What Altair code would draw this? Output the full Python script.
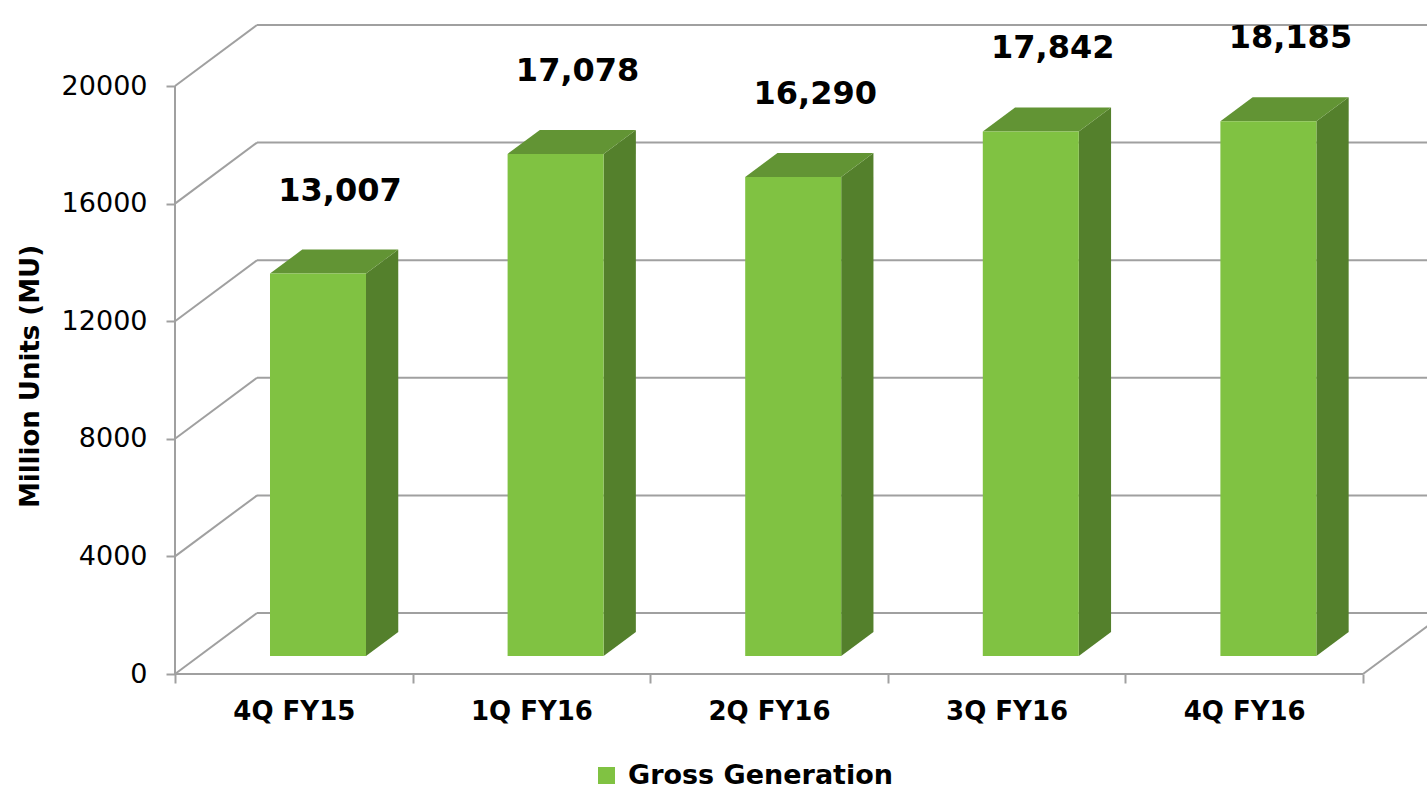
import altair as alt
import pandas as pd

# ---- data ----
categories = ["4Q FY15", "1Q FY16", "2Q FY16", "3Q FY16", "4Q FY16"]
values = [13007, 17078, 16290, 17842, 18185]
y_ticks = [0, 4000, 8000, 12000, 16000, 20000]
series_name = "Gross Generation"

# ---- style / projection constants ----
W, H = 1252, 674              # plot area in pixels
PX_U = 237.6                  # pixels per category band
PX_V = 588 / 20000            # pixels per value unit
DU = 82 / PX_U                # full depth shift, x (band units)
DV = 61 / PX_V                # full depth shift, y (value units)
D0, D1 = 18 / 61, 42 / 61     # bar front / back depth (fraction)
HALF = 48 / PX_U              # half bar width (band units)
FRONT, TOP, SIDE = "#80C242", "#629434", "#54802C"
GRID = "#A0A0A0"
FONT = "DejaVu Sans"

xs = alt.Scale(domain=[0, W / PX_U], nice=False, zero=False)
ys = alt.Scale(domain=[0, H / PX_V], nice=False, zero=False)

# ---- geometry derived from the data ----
bars, side, top = [], [], []
for i, (c, v) in enumerate(zip(categories, values)):
    cen = i + 0.5 + D0 * DU
    xl, xr = cen - HALF, cen + HALF
    sh = (D1 - D0) * DU
    bars.append(dict(cat=c, series=series_name, value=v, cen=cen, xl=xl, xr=xr,
                     y0=D0 * DV, yt=v + D0 * DV))
    side.append(dict(cat=c, x=xr, lo=D0 * DV, hi=v + D0 * DV))
    side.append(dict(cat=c, x=xr + sh, lo=D1 * DV, hi=v + D1 * DV))
    top.append(dict(cat=c, y=v + D0 * DV, lo=xl, hi=xr))
    top.append(dict(cat=c, y=v + D1 * DV, lo=xl + sh, hi=xr + sh))
bars, side, top = pd.DataFrame(bars), pd.DataFrame(side), pd.DataFrame(top)

lines = []
for t in y_ticks:
    lines.append(dict(x=0, x2=DU, y=t, y2=t + DV))            # left wall diagonal
    lines.append(dict(x=DU, x2=W / PX_U, y=t + DV, y2=t + DV))  # back wall line
lines.append(dict(x=0, x2=0, y=0, y2=y_ticks[-1]))           # vertical axis line
lines.append(dict(x=0, x2=len(categories), y=0, y2=0))        # floor front edge
lines.append(dict(x=len(categories), x2=len(categories) + DU, y=0, y2=DV))  # floor right edge
lines = pd.DataFrame(lines)

arr = "[" + ",".join("'" + c + "'" for c in categories) + "]"
x_vals = [k / 2 for k in range(0, 2 * len(categories) + 1)]
label_expr = "datum.value % 1 == 0.5 ? " + arr + "[floor(datum.value)] : ''"

x_axis = alt.Axis(
    values=x_vals, title=None, grid=False, domain=False,
    labelExpr=label_expr,
    tickColor={"condition": {"test": "datum.value % 1 == 0", "value": GRID}, "value": "transparent"},
    tickSize=9, tickWidth=2, labelPadding=15, labelOverlap=False, labelFlush=False,
    labelFont=FONT, labelFontSize=26, labelFontWeight="bold", labelColor="#000000",
)
y_axis = alt.Axis(
    values=y_ticks, format="d", grid=False, domain=False,
    tickColor=GRID, tickSize=9, tickWidth=2, labelPadding=19,
    labelFont=FONT, labelFontSize=27, labelColor="#000000",
    title="Million Units (MU)", titleFont=FONT, titleFontSize=26, titleFontWeight="bold",
    titleColor="#000000", titleX=-145, titleY=376, titleAlign="center",
    titleBaseline="middle", titleAngle=-90,
)

grid = alt.Chart(lines).mark_rule(color=GRID, strokeWidth=2).encode(
    x=alt.X("x:Q", scale=xs, axis=x_axis),
    x2="x2:Q",
    y=alt.Y("y:Q", scale=ys, axis=y_axis),
    y2="y2:Q",
)

front = alt.Chart(bars).mark_rect().encode(
    x=alt.X("xl:Q", scale=xs, axis=x_axis),
    x2="xr:Q",
    y=alt.Y("y0:Q", scale=ys, axis=y_axis),
    y2="yt:Q",
    color=alt.Color("series:N", scale=alt.Scale(domain=[series_name], range=[FRONT]),
                    legend=alt.Legend(title=None, orient="none", legendX=418, legendY=762,
                                      symbolType="square", symbolSize=289, symbolStrokeWidth=0,
                                      labelFont=FONT, labelFontSize=27, labelFontWeight="bold",
                                      labelColor="#000000", labelOffset=8, padding=0,
                                      labelLimit=0)),
)

side_face = alt.Chart(side).mark_area(color=SIDE, orient="vertical").encode(
    x=alt.X("x:Q", scale=xs, axis=x_axis),
    y=alt.Y("lo:Q", scale=ys, axis=y_axis),
    y2="hi:Q",
    detail="cat:N",
)

top_face = alt.Chart(top).mark_area(color=TOP, orient="horizontal").encode(
    y=alt.Y("y:Q", scale=ys, axis=y_axis),
    x=alt.X("lo:Q", scale=xs, axis=x_axis),
    x2="hi:Q",
    detail="cat:N",
)

labels = alt.Chart(bars).mark_text(
    font=FONT, fontSize=32, fontWeight="bold", color="#000000",
    align="center", baseline="alphabetic", dx=22, dy=-73,
).encode(
    x=alt.X("cen:Q", scale=xs, axis=x_axis),
    y=alt.Y("yt:Q", scale=ys, axis=y_axis),
    text=alt.Text("value:Q", format=",d"),
)

chart = alt.layer(grid, side_face, top_face, front, labels).properties(
    width=W, height=H,
    background="#FFFFFF",
    autosize=alt.AutoSizeParams(type="none"),
    padding={"left": 175, "right": 0, "top": 0, "bottom": 114},
).configure_view(stroke=None)

chart.save("out.html", embed_options={"renderer": "svg", "actions": False})
